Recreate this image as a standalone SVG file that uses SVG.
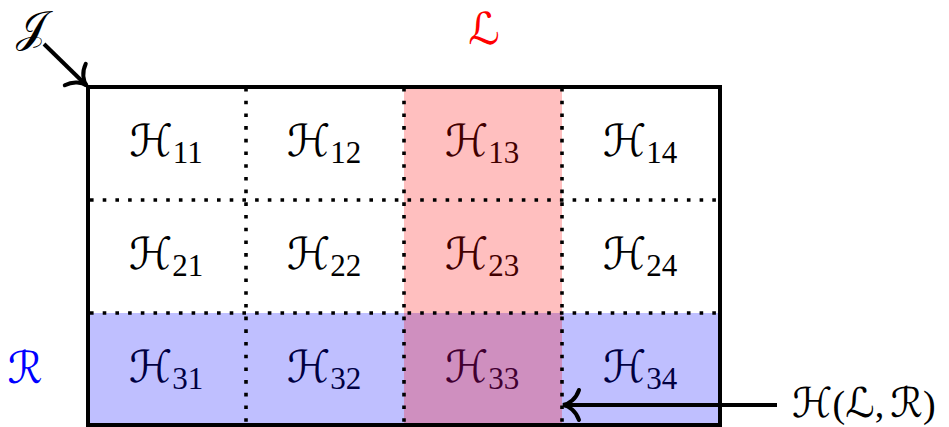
<svg xmlns="http://www.w3.org/2000/svg" width="949" height="427" viewBox="0 0 949 427">
<style>
.cal{font-family:"DejaVu Serif","DejaVu Sans",serif;font-size:44px}
.sub{font-family:"Liberation Serif","DejaVu Serif",serif;font-size:31px}
.rm{font-family:"Liberation Serif","DejaVu Serif",serif;font-size:38px}
.lbl{text-anchor:middle}
.dot{stroke:#000;stroke-width:3.6;stroke-dasharray:3.6 9.1;fill:none}
.edge{stroke:#000;stroke-width:4;fill:none}
</style>
<defs>
<marker id="to" markerUnits="userSpaceOnUse" markerWidth="40" markerHeight="40" refX="0" refY="0" viewBox="-20 -20 40 40" orient="auto" overflow="visible">
<path d="M-15,-15 C-12,-6 -5,-1 1,0 C-5,1 -12,6 -15,15" fill="none" stroke="#000" stroke-width="4" stroke-linecap="round"/>
</marker>
</defs>
<rect width="949" height="427" fill="#fff"/>
<g id="cells">
<g id="H11"><text x="166" y="156" class="lbl"><tspan class="cal">ℋ</tspan><tspan class="sub" dy="7">11</tspan></text></g>
<g id="H12"><text x="324" y="156" class="lbl"><tspan class="cal">ℋ</tspan><tspan class="sub" dy="7">12</tspan></text></g>
<g id="H13"><text x="482" y="156" class="lbl"><tspan class="cal">ℋ</tspan><tspan class="sub" dy="7">13</tspan></text></g>
<g id="H14"><text x="640" y="156" class="lbl"><tspan class="cal">ℋ</tspan><tspan class="sub" dy="7">14</tspan></text></g>
<g id="H21"><text x="166" y="269" class="lbl"><tspan class="cal">ℋ</tspan><tspan class="sub" dy="7">21</tspan></text></g>
<g id="H22"><text x="324" y="269" class="lbl"><tspan class="cal">ℋ</tspan><tspan class="sub" dy="7">22</tspan></text></g>
<g id="H23"><text x="482" y="269" class="lbl"><tspan class="cal">ℋ</tspan><tspan class="sub" dy="7">23</tspan></text></g>
<g id="H24"><text x="640" y="269" class="lbl"><tspan class="cal">ℋ</tspan><tspan class="sub" dy="7">24</tspan></text></g>
<g id="H31"><text x="166" y="382" class="lbl"><tspan class="cal">ℋ</tspan><tspan class="sub" dy="7">31</tspan></text></g>
<g id="H32"><text x="324" y="382" class="lbl"><tspan class="cal">ℋ</tspan><tspan class="sub" dy="7">32</tspan></text></g>
<g id="H33"><text x="482" y="382" class="lbl"><tspan class="cal">ℋ</tspan><tspan class="sub" dy="7">33</tspan></text></g>
<g id="H34"><text x="640" y="382" class="lbl"><tspan class="cal">ℋ</tspan><tspan class="sub" dy="7">34</tspan></text></g>
</g>
<g id="R-row"><rect x="88" y="313" width="632" height="112" fill="#0000ff" fill-opacity="0.25"/></g>
<g id="L-col"><rect x="404" y="87" width="158" height="338" fill="#ff0000" fill-opacity="0.25"/></g>
<g id="grid">
<line class="dot" x1="90" y1="200" x2="720" y2="200"/>
<line class="dot" x1="90" y1="313" x2="720" y2="313"/>
<line class="dot" x1="246" y1="88" x2="246" y2="425"/>
<line class="dot" x1="404" y1="88" x2="404" y2="425"/>
<line class="dot" x1="562" y1="88" x2="562" y2="425"/>
</g>
<g id="frame"><rect class="edge" x="88" y="87" width="632" height="338"/></g>
<g id="labels">
<text id="L" x="484" y="44" class="cal lbl" fill="#ff0000">ℒ</text>
<text id="R" x="25" y="383" class="cal lbl" fill="#0000ff">ℛ</text>
<text id="J" x="31" y="42" class="cal lbl">𝒥</text>
<text id="HLR" x="792" y="417" font-size="41"><tspan class="cal" style="font-size:41px">ℋ</tspan><tspan class="rm">(</tspan><tspan class="cal" style="font-size:41px">ℒ</tspan><tspan class="rm">,</tspan><tspan class="cal" style="font-size:41px" dx="6">ℛ</tspan><tspan class="rm">)</tspan></text>
</g>
<g id="connectors">
<line class="edge" x1="44" y1="44" x2="86" y2="85" marker-end="url(#to)"/>
<line class="edge" x1="777" y1="405" x2="564" y2="405" marker-end="url(#to)"/>
</g>
</svg>
